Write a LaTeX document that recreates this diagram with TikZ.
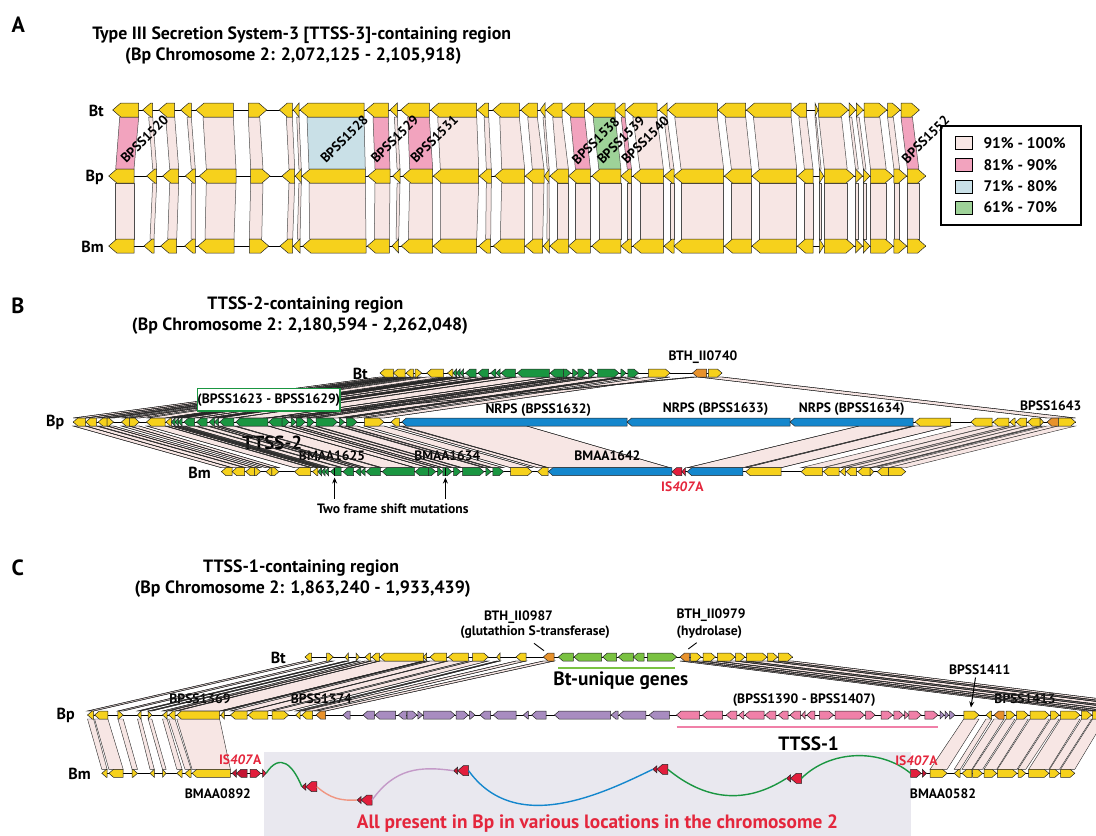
\documentclass[tikz,border=0pt]{standalone}
\usepackage{fontspec}
\setmainfont{PT Sans}
\usetikzlibrary{arrows.meta}
\definecolor{cY}{RGB}{246,209,28}
\definecolor{cG}{RGB}{26,150,65}
\definecolor{cB}{RGB}{20,135,205}
\definecolor{cO}{RGB}{232,146,44}
\definecolor{cR}{RGB}{226,30,60}
\definecolor{cDR}{RGB}{196,20,50}
\definecolor{cLG}{RGB}{122,194,66}
\definecolor{cPu}{RGB}{168,140,192}
\definecolor{cPk}{RGB}{240,128,168}
\definecolor{bL}{RGB}{247,230,228}
\definecolor{bP}{RGB}{242,163,190}
\definecolor{bB}{RGB}{201,224,231}
\definecolor{bG}{RGB}{158,210,152}
\definecolor{panelgray}{RGB}{233,232,239}
\definecolor{txtR}{RGB}{228,38,60}
\definecolor{cvS}{RGB}{240,150,130}
\definecolor{cvM}{RGB}{196,154,200}
\tikzset{
 gene/.style={draw=black!85, line width=0.5pt},
 bnd/.style={draw=black!85, line width=0.4pt},
 bb/.style={line width=0.6pt, draw=black},
 lab/.style={inner sep=0pt, font=\bfseries\fontsize{13.6}{13.6}\selectfont},
 rowlab/.style={inner sep=0pt, anchor=east, font=\bfseries\fontsize{16}{16}\selectfont},
 ttl/.style={inner sep=0pt, font=\bfseries\fontsize{17.8}{17.8}\selectfont},
 panlet/.style={inner sep=0pt, font=\bfseries\fontsize{22}{22}\selectfont},
 rotlab/.style={inner sep=0pt, rotate=45, font=\bfseries\fontsize{13.5}{13.5}\selectfont},
 biglab/.style={inner sep=0pt, font=\bfseries\fontsize{19.3}{19.3}\selectfont},
 curve/.style={line width=1.4pt},
}
% gene arrow: x1 x2 y dir color halfheight
\newcommand\GN[6]{%
 \pgfmathsetmacro\gtip{min(#6*1.15,(#2)-(#1))}%
 \pgfmathsetmacro\gxa{#1}\pgfmathsetmacro\gxb{#2}%
 \pgfmathsetmacro\gyt{#3-#6}\pgfmathsetmacro\gyb{#3+#6}\pgfmathsetmacro\gym{#3}%
 \if#4L\relax
  \pgfmathsetmacro\gxt{\gxa+\gtip}%
  \filldraw[gene,fill=#5] (\gxa,\gym) -- (\gxt,\gyt) -- (\gxb,\gyt) -- (\gxb,\gyb) -- (\gxt,\gyb) -- cycle;%
 \else
  \pgfmathsetmacro\gxt{\gxb-\gtip}%
  \filldraw[gene,fill=#5] (\gxb,\gym) -- (\gxt,\gyt) -- (\gxa,\gyt) -- (\gxa,\gyb) -- (\gxt,\gyb) -- cycle;%
 \fi}
\newcommand\geneloop[4]{\foreach \ga/\gb/\gd/\gc in #1 {\GN{\ga+(#2)}{\gb+(#2)}{#3}{\gd}{\gc}{#4}}}
\newcommand\bandloop[4]{\foreach \ta/\tb/\ba/\bbb/\bc in #1 {\path[bnd,#4] (\ta,#2) -- (\tb,#2) -- (\bbb,#3) -- (\ba,#3) -- cycle;}}
\newcommand\shiftloop[6]{\foreach \ta/\tb/\dd/\cc in #1 {\path[bnd,#6] ({\ta+(#2)},#4) -- ({\tb+(#2)},#4) -- ({\tb+(#3)},#5) -- ({\ta+(#3)},#5) -- cycle;}}
\newcommand\ISel[3]{\GN{#1}{#1+4}{#2}{L}{cDR}{3.5}\GN{#1+4}{#1+15}{#2}{L}{cR}{5}\coordinate (#3L) at (#1,#2);\coordinate (#3R) at ({#1+15},#2);}

% ---------- data panel A: bt1/bt2/bp1/bp2/bm1/bm2/dir/bandcolour
\def\Alist{112.7/138.7/108.7/134/108.7/134/L/bP, 142.7/152.7/146.7/156.7/144/154/L/bL, 158.7/174.7/162.7/178.7/160.7/176.7/L/bL, 180.7/191.3/185.3/195.3/184.7/195.3/L/bL, 196/233.3/199.3/236/198/234/L/bL, 248.3/266.7/250.7/270/249.3/268.7/R/bL, 279.3/292.3/282/294.7/280/292.7/L/bL, 293.3/299/295.3/301.3/293.3/300/L/bL, 300/364/302/365.3/302.7/366/L/bB, 366/388.3/368/390/367.3/389.3/L/bP, 390/397.3/392.7/400/392/398.7/L/bL, 400.7/429.3/402.7/432.7/401.3/432.7/L/bP, 430.7/476.7/433.3/478.7/433.3/476.7/L/bL, 477.3/488.7/479.3/491.3/478.7/490.7/L/bL, 492.7/519.3/494.7/524.7/493.3/524.7/L/bL, 520.7/537.3/525.3/544/525.3/542.7/L/bL, 540/545/544.3/549.2/543.3/549.3/L/bL, 545.7/562/549.9/568.4/549.9/568.4/L/bL, 563.4/584.7/568.4/590.4/568.4/590.4/L/bP, 586.1/615.2/591.8/620.9/591.8/620.9/L/bG, 615.2/625.1/620.9/631.5/620.9/631.5/L/bP, 625.8/657/632.9/663.4/632.9/663.4/L/bL, 659/667/664.1/674/664.1/674/L/bL, 667.7/717.3/674/723.7/674/723.7/L/bL, 718/745.7/724.4/751.3/724.4/751.3/L/bL, 746.4/791.1/752/796.7/752/796.7/L/bL, 791.8/806.7/797.4/813/797.4/813/L/bL, 815/818/819.4/823.7/819.4/823.7/R/bL, 818.7/848.5/824.4/854.2/824.4/854.2/R/bL, 849.2/855.6/855.5/862.5/855.5/862.5/R/bL, 856.3/863.4/863.4/869.8/863.4/869.8/R/bL, 864.1/886.8/870.5/893.2/870.5/893.2/R/bL, 887.5/900.3/893.9/906.7/893.9/906.7/R/bL, 901/919.4/907.4/925.8/907.4/925.8/R/bP}

% ---------- data panel B
\def\Bgreen{166/171.4/L/cY, 171.4/175/L/cG, 175/178.5/L/cG, 178.5/182/L/cG, 183.9/194.6/L/cG, 196.4/207.1/L/cG, 209/214.3/L/cG, 214.3/218.6/L/cG, 219.6/233.9/L/cG, 235.7/267.9/L/cG, 268.6/282.1/L/cG, 282.1/289.3/R/cG, 291/296.4/R/cG, 296.4/305.4/R/cG, 307.1/314.3/R/cG, 316/337.5/R/cG, 339.3/344.6/R/cG, 346.4/357.1/R/cG}
\def\Bright{970.9/992.1/L/cY, 993.2/1008.8/L/cY, 1009.9/1015.2/L/cY, 1015.9/1026.5/L/cY, 1027.6/1040/L/cY, 1040/1043.5/R/cY, 1047/1058.4/L/cO, 1058.4/1075.5/R/cY}
\def\BtOther{380/393.3/L/cY, 393.3/405/L/cY, 406/413.3/L/cY, 415/421.7/R/cY, 426.7/443.3/L/cY, 648.3/670/R/cY, 692.5/706.7/L/cO, 708.4/722/R/cY}
\def\BpOther{73.2/85.7/L/cY, 85.7/96.4/L/cY, 98.2/107.1/L/cY, 107.1/113.6/R/cY, 121.4/129.3/L/cY, 129.3/139.3/R/cY, 146.4/165/L/cY, 364.3/383.9/R/cY, 391/399.3/L/cY, 401.7/627/L/cB, 627/790/L/cB, 790/913/L/cB, 915.2/950.6/L/cY}
\def\BmOther{221.4/232.1/L/cY, 232.1/244.6/L/cY, 245.7/254.3/L/cY, 254.3/260.7/R/cY, 266/271.8/L/cY, 271.8/279/R/cY, 294.6/310.7/L/cY, 510.7/532.1/R/cY, 537.5/548.2/L/cY, 548.3/671.9/L/cB, 671.9/681.8/L/cR, 681.8/685.4/L/cR, 687.2/742.8/L/cB, 745.7/781.1/L/cY}
\def\BtpBands{380/389/73.2/85.7/bL, 389/396/85.7/96.4/bL, 397/403/98.2/107.1/bL, 403/407.3/107.1/113.6/bL, 410/415/121.4/129.3/bL, 415/421.7/129.3/139.3/bL, 426.7/443.3/146.4/165/bL, 648.3/670/364.3/383.9/bL, 692.5/697/263/268/bL, 698/722/1047/1075.5/bL}
\def\BpmBands{73.2/85.7/221.4/232.1/bL, 85.7/96.4/232.1/244.6/bL, 98.2/107.1/245.7/254.3/bL, 107.1/113.6/254.3/260.7/bL, 121.4/129.3/266/271.8/bL, 129.3/139.3/271.8/279/bL, 146.4/165/294.6/310.7/bL, 364.3/383.9/510.7/532.1/bL, 391/399.3/537.5/548.2/bL, 401.7/526.7/548.3/670/bL, 859/913/687.2/742.8/bL, 915.2/950.6/745.7/781.1/bL}

% ---------- data panel C
\def\CBt{305/311.7/L/cY, 326.7/333.3/R/cY, 345/348.3/L/cY, 356/359.3/R/cY, 365/370.7/L/cY, 371.7/379.3/L/cY, 380/423.3/L/cY, 423.3/426.7/L/cY, 430/446.7/L/cY, 448.3/468.3/L/cY, 472.7/488.3/R/cY, 496.7/500/L/cY, 516/526/L/cY, 543.3/554/L/cO, 558.3/573.3/L/cLG, 574/601.7/L/cLG, 602.7/616.7/L/cLG, 618.3/633.3/L/cLG, 633.3/644/L/cLG, 647.3/676.7/R/cLG, 680/689.3/L/cO, 690.7/701.3/R/cY, 703.1/715.5/R/cY, 717.3/735/R/cY, 735.7/745/R/cY, 746.4/767/R/cY, 767.7/777.6/R/cY, 778.3/792.5/R/cY}
\def\CtR{680/689.3/L/cO, 690.7/701.3/R/cY, 703.1/715.5/R/cY, 717.3/735/R/cY, 735.7/745/R/cY, 746.4/767/R/cY, 767.7/777.6/R/cY, 778.3/792.5/R/cY}
\def\CBp{87.5/93.6/L/cY, 94.6/107.9/L/cY, 117.9/123.2/R/cY, 137.5/141/L/cY, 148.2/151.8/R/cY, 162.5/167.1/L/cY, 168.6/175/L/cY, 176.8/219.6/L/cY, 220.7/224.3/L/cY, 230.4/247.1/L/cY, 248.2/267.9/L/cY, 272.1/288.6/R/cY, 295.7/300/L/cY, 301.8/312.5/L/cY, 316/325.7/L/cO, 342.9/350/L/cPu, 363/374.3/L/cPu, 375/395.7/L/cPu, 398.3/406.4/L/cPu, 407.1/417.1/R/cPu, 417.8/422.7/R/cPu, 423.6/455/R/cPu, 456/468.3/R/cPu, 469.3/475/R/cPu, 480/490.7/L/cPu, 493.3/516/L/cPu, 523.3/528.3/L/cPu, 531.7/546/L/cPu, 554.5/610.5/L/cPu, 611.2/618.2/L/cPu, 619/645.8/L/cPu, 649.2/669.4/L/cPu, 676.5/699.6/L/cPk, 702.4/722.6/L/cPk, 726.2/736.8/L/cPk, 738.6/743.9/L/cPk, 745/764.1/L/cPk, 765.2/775.8/L/cPk, 778.3/788.2/L/cPk, 790/800.6/L/cPk, 801.7/805.2/L/cPk, 806.7/814.8/L/cPk, 819.4/833.6/R/cPk, 835/864.5/R/cPk, 865.5/875.1/R/cPk, 881.1/892.8/R/cPk, 893.9/903.5/R/cPk, 904.5/908.8/R/cPk, 908.8/921.2/R/cPk, 924.8/937.9/R/cPk, 940/944.3/R/cPu, 945/948.5/R/cPu, 949.6/954.9/R/cPu, 963.8/979/R/cY, 986/991.7/L/cY, 994/1004/L/cO, 1006/1015/R/cY, 1016.7/1028.3/R/cY, 1030/1049.3/R/cY, 1050.7/1059.3/R/cY, 1060.7/1080/R/cY, 1081.7/1091.7/R/cY, 1092.7/1105/R/cY}
\def\CBm{101.8/107.1/L/cY, 108.9/123.2/L/cY, 132.1/137.5/R/cY, 150/154.3/L/cY, 162.5/166.1/R/cY, 176.8/182.1/L/cY, 185/191.1/L/cY, 192.1/230.4/L/cY, 232.1/236.4/L/cDR, 236.4/247.1/L/cDR, 250/260.7/R/cR, 262.5/266.1/R/cR, 910.6/921.2/R/cR, 922.3/926.5/R/cDR, 930.1/947.1/R/cY, 954.2/960.2/L/cY, 962/971.9/L/cY, 972.6/982.6/R/cY, 984/996.7/R/cY, 997.4/1017/R/cY, 1018/1025.8/R/cY, 1028.7/1048.9/R/cY, 1049.6/1059.5/R/cY, 1060.6/1074.8/R/cY}
\def\CtpL{305/311.7/87.5/93.6/bL, 326.7/333.3/117.9/123.2/bL, 345/348.3/137.5/141/bL, 356/359.3/148.2/151.8/bL, 365/370.7/162.5/167.1/bL, 371.7/379.3/168.6/175/bL, 380/423.3/176.8/219.6/bL, 423.3/426.7/220.7/224.3/bL, 430/446.7/230.4/247.1/bL, 448.3/468.3/248.2/267.9/bL, 472.7/488.3/272.1/288.6/bL, 496.7/500/295.7/300/bL, 516/526/301.8/312.5/bL, 543.3/554/316/325.7/bL}
\def\CpmL{87.5/93.6/101.8/107.1/bL, 94.6/107.9/108.9/123.2/bL, 117.9/123.2/132.1/137.5/bL, 137.5/141/150/154.3/bL, 148.2/151.8/162.5/166.1/bL, 162.5/167.1/176.8/182.1/bL, 168.6/175/185/191.1/bL, 176.8/219.6/192.1/230.4/bL}
\def\CpmR{963.8/979/930.1/947.1/bL, 986/991.7/954.2/960.2/bL, 994/1004/962/971.9/bL, 1006/1015/972.6/982.6/bL, 1016.7/1028.3/984/996.7/bL, 1030/1049.3/997.4/1017/bL, 1050.7/1059.3/1018/1025.8/bL, 1060.7/1080/1028.7/1048.9/bL, 1081.7/1091.7/1049.6/1059.5/bL, 1092.7/1105/1060.6/1074.8/bL}

\begin{document}
\begin{tikzpicture}[x=1pt,y=-1pt]
\useasboundingbox (0,0) rectangle (1096,836);
\clip (0,0) rectangle (1096,836);

%================ PANEL A
\node[panlet] (pA) at (18.4,25) {A};
\node[ttl] (tA1) at (301.7,35) {Type III Secretion System-3 [TTSS-3]-containing region};
\node[ttl] (tA2) at (293.3,56) {(Bp Chromosome 2: 2,072,125 - 2,105,918)};
\foreach \ta/\tb/\pa/\pb/\ma/\mb/\dr/\cl in \Alist {
 \if\dr L\def\sL{1}\def\sR{0}\else\def\sL{0}\def\sR{1}\fi
 \pgfmathsetmacro\tA{\ta+\sL*min(7,0.6*(\tb-\ta))}
 \pgfmathsetmacro\tB{\tb-\sR*min(7,0.6*(\tb-\ta))}
 \pgfmathsetmacro\pA{\pa+\sL*min(7,0.6*(\pb-\pa))}
 \pgfmathsetmacro\pB{\pb-\sR*min(7,0.6*(\pb-\pa))}
 \pgfmathsetmacro\mA{\ma+\sL*min(7,0.6*(\mb-\ma))}
 \pgfmathsetmacro\mB{\mb-\sR*min(7,0.6*(\mb-\ma))}
 \filldraw[draw=black!70, line width=0.5pt, fill=\cl] (\tA,117) -- (\tB,117) -- (\pB,169) -- (\pA,169) -- cycle;
 \filldraw[draw=black!70, line width=0.5pt, fill=bL] (\pA,183) -- (\pB,183) -- (\mB,239) -- (\mA,239) -- cycle;
}
\draw[bb] (112.7,110) -- (919.4,110);
\draw[bb] (108.7,176) -- (925.8,176);
\draw[bb] (108.7,246) -- (925.8,246);
\foreach \ta/\tb/\pa/\pb/\ma/\mb/\dr/\cl in \Alist {
 \GN{\ta}{\tb}{110}{\dr}{cY}{7}
 \GN{\pa}{\pb}{176}{\dr}{cY}{7}
 \GN{\ma}{\mb}{246}{\dr}{cY}{7}
}
\node[rowlab] (aBt) at (104,111) {Bt};
\node[rowlab] (aBp) at (104,177) {Bp};
\node[rowlab] (aBm) at (104,247) {Bm};
\node[rotlab] (r1) at (144.5,139.2) {BPSS1520};
\node[rotlab] (r2) at (344.2,139.2) {BPSS1528};
\node[rotlab] (r3) at (394.7,139.2) {BPSS1529};
\node[rotlab] (r4) at (434.2,139.2) {BPSS1531};
\node[rotlab] (r5) at (595.7,140.7) {BPSS1538};
\node[rotlab] (r6) at (620.9,140) {BPSS1539};
\node[rotlab] (r7) at (645.3,140) {BPSS1540};
\node[rotlab] (r8) at (925.5,139.3) {BPSS1552};
% legend
\draw[line width=1.8pt] (940.7,126) rectangle (1080.8,225);
\foreach \yy/\cc/\tt [count=\i] in {143.3/bL/91\% - 100\%, 164.7/bP/81\% - 90\%, 186.4/bB/71\% - 80\%, 207.6/bG/61\% - 70\%}{
 \filldraw[fill=\cc, draw=black, line width=0.8pt] (954.9,\yy-6.5) rectangle (971.9,\yy+6.5);
 \node[lab, anchor=west, font=\bfseries\fontsize{15.3}{15.3}\selectfont] (lg\i) at (983.3,\yy) {\tt};
}

%================ PANEL B
\node[panlet] (pB) at (17.8,306) {B};
\node[ttl] (tB1) at (305.4,305) {TTSS-2-containing region};
\node[ttl] (tB2) at (300,326) {(Bp Chromosome 2: 2,180,594 - 2,262,048)};
% pass 1 bands
\bandloop{\BtpBands}{377}{418}{fill=\bc}
\shiftloop{\Bgreen}{281.5}{0}{377}{418}{fill=bL}
\bandloop{\BpmBands}{426}{467.7}{fill=\bc}
\shiftloop{\Bgreen}{0}{146.5}{426}{467.7}{fill=bL}
\shiftloop{\Bright}{0}{-169.8}{426}{467.7}{fill=bL}
% obscured labels
\node[biglab, font=\bfseries\fontsize{19}{19}\selectfont] (ttss2) at (272.3,443.3) {TTSS-2};
\node[lab] (bmaa1625) at (332,456) {BMAA1625};
\node[lab] (bmaa1634) at (447.3,456) {BMAA1634};
\node[lab] (bmaa1642) at (607.4,456) {BMAA1642};
% pass 2 outlines
\bandloop{\BtpBands}{377}{418}{}
\shiftloop{\Bgreen}{281.5}{0}{377}{418}{}
\bandloop{\BpmBands}{426}{467.7}{}
\shiftloop{\Bgreen}{0}{146.5}{426}{467.7}{}
% backbones
\draw[bb] (380,373) -- (722,373);
\draw[bb] (73.2,422) -- (1075.5,422);
\draw[bb] (221.4,471.7) -- (905.7,471.7);
% genes
\geneloop{\BtOther}{0}{373}{4}
\geneloop{\Bgreen}{281.5}{373}{4}
\geneloop{\BpOther}{0}{422}{4}
\geneloop{\Bgreen}{0}{422}{4}
\geneloop{\Bright}{0}{422}{4}
\geneloop{\BmOther}{0}{471.7}{4}
\geneloop{\Bgreen}{146.5}{471.7}{4}
\foreach \ga/\gb/\gd/\gc in \Bright {\GN{\ga-169.8}{\gb-169.8}{471.7}{\gd}{cY}{4}}
\draw[line width=1pt] (334.6,467.7) -- (334.6,475.7);
\draw[line width=1pt] (445.4,467.7) -- (445.4,475.7);
% labels
\node[rowlab] (bBt) at (368,373.5) {Bt};
\node[rowlab] (bBp) at (64.5,422.5) {Bp};
\node[rowlab] (bBm) at (211,472.5) {Bm};
\node[draw=cG, line width=1.6pt, fill=white, minimum width=142.5pt, minimum height=22.7pt, inner sep=0pt, font=\bfseries\fontsize{13.6}{13.6}\selectfont] (boxB) at (268.75,399.7) {(BPSS1623 - BPSS1629)};
\node[lab] (bth740) at (703,356.7) {BTH\_II0740};
\node[lab] (nrps1) at (538.3,410) {NRPS (BPSS1632)};
\node[lab] (nrps2) at (715.6,409.3) {NRPS (BPSS1633)};
\node[lab] (nrps3) at (851.7,409.3) {NRPS (BPSS1634)};
\node[lab] (bpss1643) at (1050.7,406) {BPSS1643};
\node[lab, text=txtR] (isB) at (682.4,486.7) {IS\textit{407}A};
\node[lab] (fsm) at (392.9,508.3) {Two frame shift mutations};
\coordinate (fs1a) at (334.6,498.5); \coordinate (fs1b) at (334.6,477.5);
\coordinate (fs2a) at (445.4,498.5); \coordinate (fs2b) at (445.4,477.5);
\draw[-{Stealth[length=6pt,width=5pt]}, line width=1.1pt] (fs1a) -- (fs1b);
\draw[-{Stealth[length=6pt,width=5pt]}, line width=1.1pt] (fs2a) -- (fs2b);

%================ PANEL C
\node[panlet] (pC) at (17.8,568) {C};
\node[ttl] (tC1) at (301,568) {TTSS-1-containing region};
\node[ttl] (tC2) at (302.7,589) {(Bp Chromosome 2: 1,863,240 - 1,933,439)};
\fill[panelgray] (264.3,751.7) rectangle (910.6,840);
% pass 1 bands
\bandloop{\CtpL}{661}{711}{fill=\bc}
\shiftloop{\CtR}{0}{407}{661}{711}{fill=bL}
\bandloop{\CpmL}{719}{769.3}{fill=\bc}
\bandloop{\CpmR}{719}{769.3}{fill=\bc}
\node[lab] (bpss1369) at (200,698.3) {BPSS1369};
\node[lab] (bpss1374) at (321.4,698.3) {BPSS1374};
\node[lab] (bpss1413) at (1025,698.3) {BPSS1413};
\bandloop{\CtpL}{661}{711}{}
\shiftloop{\CtR}{0}{407}{661}{711}{}
% backbones
\draw[bb] (305,657) -- (792.5,657);
\draw[bb] (87.5,715) -- (1096,715);
\draw[bb] (101.8,773.3) -- (266.1,773.3);
\draw[bb] (910.6,773.3) -- (1074.8,773.3);
\geneloop{\CBt}{0}{657}{4}
\geneloop{\CBp}{0}{715}{4}
\geneloop{\CBm}{0}{773.3}{4}
% curves and IS elements
\ISel{301.8}{786.7}{e1}
\ISel{357.1}{800}{e2}
\ISel{453.6}{770.7}{e3}
\ISel{652.8}{769.3}{e4}
\ISel{786.5}{778.3}{e5}
\coordinate (bmL) at (266.1,773.3);
\coordinate (bmR) at (910.6,773.3);
\draw[curve, cG] (bmL) .. controls (280,752) and (293,765) .. (e1L);
\draw[curve, cvS] (e1R) .. controls (330,798) and (340,801) .. (e2L);
\draw[curve, cvM] (e2R) .. controls (395,768) and (420,766) .. (e3L);
\draw[curve, cB] (e3R) .. controls (515,835) and (600,795) .. (e4L);
\draw[curve, cG] (e4R) .. controls (705,800) and (745,805) .. (e5L);
\draw[curve, cG] (e5R) .. controls (830,750) and (880,748) .. (bmR);
% labels
\node[rowlab] (cBt) at (286,657.5) {Bt};
\node[rowlab] (cBp) at (75,715.5) {Bp};
\node[rowlab] (cBm) at (91,773.8) {Bm};
\node[lab] (bth987) at (518.5,617) {BTH\_II0987};
\node[lab] (gst) at (535,632.5) {(glutathion S-transferase)};
\node[lab, anchor=west] (bth979) at (676.5,615) {BTH\_II0979};
\node[lab, anchor=west] (hyd) at (676.5,632.5) {(hydrolase)};
\coordinate (gstA) at (534,643.3); \coordinate (gstB) at (544,650.7);
\coordinate (hydA) at (696.7,642.7); \coordinate (hydB) at (688.3,649);
\draw[line width=0.9pt] (gstA) -- (gstB);
\draw[line width=0.9pt] (hydA) -- (hydB);
\draw[cLG, line width=2pt] (558.3,668.3) -- (675,668.3);
\node[biglab] (btu) at (620.8,681) {Bt-unique genes};
\node[lab] (ttss1r) at (804.2,700) {(BPSS1390 - BPSS1407)};
\draw[cPk, line width=2pt] (676.5,727.3) -- (937.9,727.3);
\node[biglab] (ttss1) at (808.6,744) {TTSS-1};
\node[lab] (bpss1411) at (979.7,670) {BPSS1411};
\coordinate (a1411s) at (975.5,677.5);
\coordinate (a1411) at (970.9,707.5);
\draw[-{Stealth[length=6pt,width=5pt]}, line width=1pt] (a1411s) -- (a1411);
\node[lab, text=txtR] (isC1) at (240.2,760) {IS\textit{407}A};
\node[lab] (bmaa0892) at (217.9,793.3) {BMAA0892};
\node[lab, text=txtR] (isC2) at (916.5,760.7) {IS\textit{407}A};
\node[lab] (bmaa0582) at (943,793.3) {BMAA0582};
\node[biglab, text=txtR] (allp) at (597.5,824) {All present in Bp in various locations in the chromosome 2};
\end{tikzpicture}
\end{document}
